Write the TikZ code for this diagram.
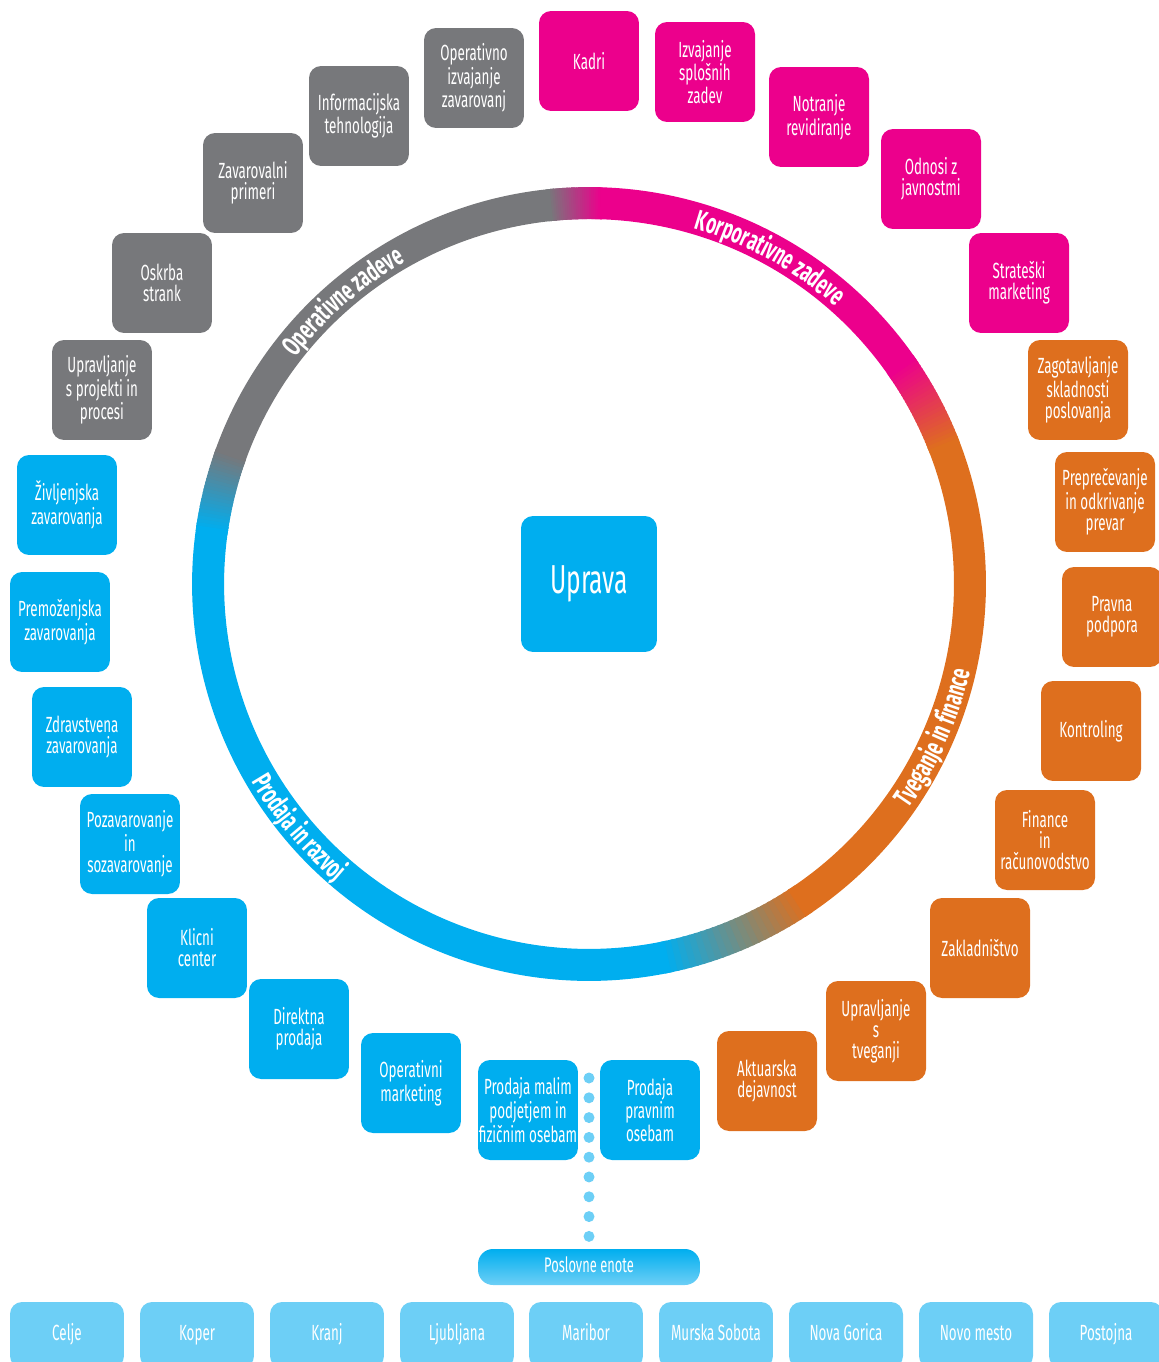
\documentclass[tikz,border=0pt]{standalone}
\usepackage{fontspec}
\setmainfont{Fira Sans}[FakeStretch=0.61]
\usetikzlibrary{calc,decorations.text}

\definecolor{opgray}{HTML}{77787B}
\definecolor{kormag}{HTML}{EC008C}
\definecolor{tvorange}{HTML}{DE6F1E}
\definecolor{prblue}{HTML}{00AEEF}
\definecolor{citylight}{HTML}{6DCFF6}

\newcommand\boxfont{\fontsize{12.5}{12}\selectfont}
\newcommand\ringfont{\fontsize{16}{16}\selectfont\bfseries}
\newcommand\R{7.62cm}

\tikzset{
  unit/.style={rounded corners=0.24cm, minimum width=2cm, minimum height=2cm,
    inner sep=0pt, text=white, align=center, font=\boxfont},
  grayunit/.style={unit, fill=opgray},
  magunit/.style={unit, fill=kormag},
  orangeunit/.style={unit, fill=tvorange},
  blueunit/.style={unit, fill=prblue},
  city/.style={rounded corners=0.24cm, minimum width=2.28cm, minimum height=1.32cm,
    inner sep=0pt, text height=1.6ex, text depth=0.45ex, fill=citylight, text=white, font=\boxfont},
  ring/.style={line width=0.64cm},
  dots/.style={citylight, line width=0.22cm, line cap=round, dash pattern=on 0pt off 0.396cm}
}

\newcommand\ringarc[3]{%
  \draw[ring, #3] ($(c)+(#1:\R)$) arc[start angle=#1, end angle=#2, radius=\R];}
\newcommand\ringfade[4]{%
  \foreach \k in {0,...,23}{
    \pgfmathsetmacro\aa{#1+(#2-#1)*\k/24}
    \pgfmathsetmacro\bb{#1+(#2-#1)*(\k+1)/24+0.3}
    \pgfmathtruncatemacro\pp{100*\k/23}
    \colorlet{fadec}{#4!\pp!#3}
    \draw[ring, fadec] ($(c)+(\aa:\R)$) arc[start angle=\aa, end angle=\bb, radius=\R];
  }}

\begin{document}
\begin{tikzpicture}[x=0.02cm, y=-0.02cm]
  \useasboundingbox (0,0) rectangle (1159,1362);
  \clip (0,0) rectangle (1159,1362);

  \coordinate (c) at (589,584);
  \ringarc{-57}{22}{tvorange}
  \ringarc{34}{89}{kormag}
  \ringarc{95}{161}{opgray}
  \ringarc{171}{282}{prblue}
  \ringfade{21}{35}{tvorange}{kormag}
  \ringfade{88}{96}{kormag}{opgray}
  \ringfade{160}{172}{opgray}{prblue}
  \ringfade{281}{304}{prblue}{tvorange}

  \path[decorate, decoration={text along path, text align=center,
    text={|\color{white}\ringfont|Operativne zadeve}}]
    ($(c)+(151:7.42cm)$) arc[start angle=151, end angle=111, radius=7.42cm];
  \path[decorate, decoration={text along path, text align=center,
    text={|\color{white}\ringfont|Korporativne zadeve}}]
    ($(c)+(81:7.42cm)$) arc[start angle=81, end angle=41, radius=7.42cm];
  \path[decorate, decoration={text along path, text align=center,
    text={|\color{white}\ringfont|Tveganje in finance}}]
    ($(c)+(-44:7.82cm)$) arc[start angle=-44, end angle=-4, radius=7.82cm];
  \path[decorate, decoration={text along path, text align=center,
    text={|\color{white}\ringfont|Prodaja in razvoj}}]
    ($(c)+(200:7.82cm)$) arc[start angle=200, end angle=240, radius=7.82cm];

  \node[blueunit, minimum width=2.72cm, minimum height=2.72cm, font=\fontsize{23}{23}\selectfont] (uprava) at (589,584) {Uprava};

  \node[grayunit] (opiz) at (474,78) {Operativno\\izvajanje\\zavarovanj};
  \node[grayunit] (it) at (359,116) {Informacijska\\tehnologija};
  \node[grayunit] (zp) at (253,183) {Zavarovalni\\primeri};
  \node[grayunit] (os) at (162,283) {Oskrba\\strank};
  \node[grayunit] (upp) at (102,390) {Upravljanje\\s projekti in\\procesi};

  \node[magunit] (kadri) at (589,61) {Kadri};
  \node[magunit] (isz) at (705,72) {Izvajanje\\splošnih\\zadev};
  \node[magunit] (nr) at (819,117) {Notranje\\revidiranje};
  \node[magunit] (oj) at (931,179) {Odnosi z\\javnostmi};
  \node[magunit] (sm) at (1019,283) {Strateški\\marketing};

  \node[orangeunit] (zsp) at (1078,390) {Zagotavljanje\\skladnosti\\poslovanja};
  \node[orangeunit] (pop) at (1105,502) {Preprečevanje\\in odkrivanje\\prevar};
  \node[orangeunit] (pp) at (1112,617) {Pravna\\podpora};
  \node[orangeunit] (kon) at (1091,731) {Kontroling};
  \node[orangeunit] (fir) at (1045,840) {Finance\\in\\računovodstvo};
  \node[orangeunit] (zak) at (980,948) {Zakladništvo};
  \node[orangeunit] (ust) at (876,1031) {Upravljanje\\s\\tveganji};
  \node[orangeunit] (ad) at (767,1081) {Aktuarska\\dejavnost};

  \node[blueunit] (zz) at (67,505) {Življenjska\\zavarovanja};
  \node[blueunit] (pz) at (60,622) {Premoženjska\\zavarovanja};
  \node[blueunit] (zdz) at (82,737) {Zdravstvena\\zavarovanja};
  \node[blueunit] (poz) at (130,844) {Pozavarovanje\\in\\sozavarovanje};
  \node[blueunit] (kc) at (197,948) {Klicni\\center};
  \node[blueunit] (dp) at (299,1029) {Direktna\\prodaja};
  \node[blueunit] (om) at (411,1083) {Operativni\\marketing};
  \node[blueunit] (pmp) at (528,1110) {Prodaja malim\\podjetjem in\\fizičnim osebam};
  \node[blueunit] (ppo) at (650,1110) {Prodaja\\pravnim\\osebam};

  \node[rounded corners=0.3cm, minimum width=4.44cm, minimum height=0.72cm, inner sep=0pt,
    text height=1.6ex, text depth=0.45ex, top color=prblue, bottom color=citylight, text=white,
    font=\fontsize{12}{12}\selectfont] (pe) at (589,1267) {Poslovne enote};
  \coordinate (dtop) at (589,1078);
  \draw[dots] (dtop) -- (pe.north);

  \node[city] (celje) at (67,1335) {Celje};
  \node[city] (koper) at (197,1335) {Koper};
  \node[city] (kranj) at (327,1335) {Kranj};
  \node[city] (lj) at (457,1335) {Ljubljana};
  \node[city] (mb) at (586,1335) {Maribor};
  \node[city] (ms) at (716,1335) {Murska Sobota};
  \node[city] (ng) at (846,1335) {Nova Gorica};
  \node[city] (nm) at (976,1335) {Novo mesto};
  \node[city] (po) at (1106,1335) {Postojna};
\end{tikzpicture}
\end{document}
